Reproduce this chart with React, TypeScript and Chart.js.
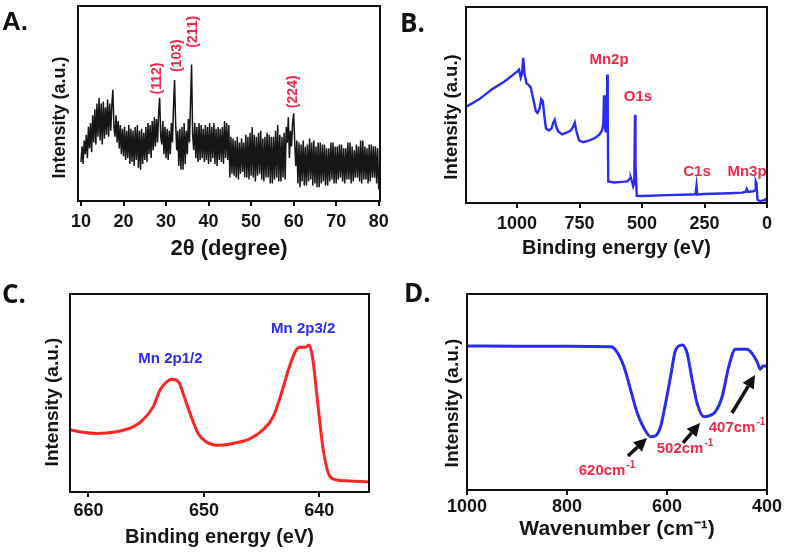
import React, { useEffect, useRef } from 'react';
import { Chart, registerables } from 'chart.js';
Chart.register(...registerables);

// ---------- Panel A: XRD ----------
const xrdAngle = [
  10,10.25,10.5,10.75,11,11.25,11.5,11.75,12,12.25,12.5,12.75,13,13.25,13.5,13.75,14,14.25,14.5,14.75,
  15,15.25,15.5,15.75,16,16.25,16.5,16.75,17,17.25,17.5,17.75,18,18.25,18.5,18.75,19,19.25,19.5,19.75,
  20,20.25,20.5,20.75,21,21.25,21.5,21.75,22,22.25,22.5,22.75,23,23.25,23.5,23.75,24,24.25,24.5,24.75,
  25,25.25,25.5,25.75,26,26.25,26.5,26.75,27,27.25,27.5,27.75,28,28.25,28.5,28.75,29,29.25,29.5,29.75,
  30,30.25,30.5,30.75,31,31.25,31.5,31.75,32,32.25,32.5,32.75,33,33.25,33.5,33.75,34,34.25,34.5,34.75,
  35,35.25,35.5,35.75,36,36.25,36.5,36.75,37,37.25,37.5,37.75,38,38.25,38.5,38.75,39,39.25,39.5,39.75,
  40,40.25,40.5,40.75,41,41.25,41.5,41.75,42,42.25,42.5,42.75,43,43.25,43.5,43.75,44,44.25,44.5,44.75,
  45,45.25,45.5,45.75,46,46.25,46.5,46.75,47,47.25,47.5,47.75,48,48.25,48.5,48.75,49,49.25,49.5,49.75,
  50,50.25,50.5,50.75,51,51.25,51.5,51.75,52,52.25,52.5,52.75,53,53.25,53.5,53.75,54,54.25,54.5,54.75,
  55,55.25,55.5,55.75,56,56.25,56.5,56.75,57,57.25,57.5,57.75,58,58.25,58.5,58.75,59,59.25,59.5,59.75,
  60,60.25,60.5,60.75,61,61.25,61.5,61.75,62,62.25,62.5,62.75,63,63.25,63.5,63.75,64,64.25,64.5,64.75,
  65,65.25,65.5,65.75,66,66.25,66.5,66.75,67,67.25,67.5,67.75,68,68.25,68.5,68.75,69,69.25,69.5,69.75,
  70,70.25,70.5,70.75,71,71.25,71.5,71.75,72,72.25,72.5,72.75,73,73.25,73.5,73.75,74,74.25,74.5,74.75,
  75,75.25,75.5,75.75,76,76.25,76.5,76.75,77,77.25,77.5,77.75,78,78.25,78.5,78.75,79,79.25,79.5,79.75,
  80
];
const xrdIntensity = [
  20,28,19,31, 24,34,22,38, 27,40,25,44, 30,47,29,50, 33,53,31,50,
  29,51,32,48, 34,52,33,50, 36,49,57,38, 33,44,30,41, 27,39,24,37,
  23,38,21,36, 22,39,19,37, 20,36,18,38, 21,39,17,36, 16,37,19,35,
  21,38,20,40, 24,39,22,41, 26,43,28,42, 30,45,53,33, 29,41,24,38,
  22,37,21,36, 24,40,30,48, 62,40,26,36, 18,37,16,38, 16,40,19,36,
  24,42,30,50, 70,34,26,40, 22,38,20,40, 21,39,22,37, 20,39,21,38,
  19,40,20,38, 22,40,19,37, 18,38,21,37, 20,38,19,41, 22,40,21,39,
  12,33,14,32, 13,31,12,33, 11,30,14,32, 15,30,12,34, 12,33,11,35,
  13,38,12,34, 10,33,13,35, 14,36,11,32, 10,33,12,35, 12,34,9,33,
  9,33,11,36, 12,39,10,34, 10,33,12,35, 11,38,30,43, 22,36,28,40,
  45,30,18,31, 9,30,7,29, 10,31,8,28, 8,29,10,32, 11,30,8,31,
  9,28,7,30, 7,30,9,29, 10,29,8,27, 8,27,10,30, 11,30,9,28,
  9,28,11,29, 12,29,10,27, 9,27,11,30, 11,30,9,28, 10,26,12,29,
  12,28,10,31, 9,31,11,28, 11,27,9,29, 10,29,12,28, 12,28,9,27,
  6
];
const xrdTicks = [10, 20, 30, 40, 50, 60, 70, 80];
const xrdPeakNames = ['(112)', '(103)', '(211)', '(224)'];
const xrdPeakX = [27.9, 32.5, 36.4, 59.9];
const xrdPeakY = [62.8, 74.5, 86.8, 56];

// ---------- Panel B: XPS survey ----------
const xpsEnergy = [1204,1150,1100,1050,1020,1000,992,985,980,975,970,962,952,945,935,925,918,910,903,897,890,884,872,862,855,849,843,835,820,800,785,775,769,763,752,735,710,690,670,660,655,652,649,645,641,639,637,635,612,580,559,548,545,540,535,531,528,526,521,500,400,300,286,282,279,250,150,100,86,81,76,55,48,45,42,38,30,20,10,5,0];
const xpsIntensity = [49,53,58,62,65,67,68,64,66,74,66,61,60,59,53,47,46,48,53,52,44,38,37,38,41,42.5,39,36.5,35,36,37,39,41,37,32,31,32,33,35,37,40,55,40,36,45,65.5,45,11,10.5,10.8,11,12.5,12.9,11,8.5,10,45,20,3.7,3.6,4,4.3,4.5,8.8,4.4,4.6,5,5.3,5.6,7.2,5.6,6,6.5,11,10,1.7,1,1.2,1.5,2,0.6];
const xpsTicks = [1000, 750, 500, 250, 0];
const xpsPeakNames = ['Mn2p', 'O1s', 'C1s', 'Mn3p'];
const xpsPeakX = [632, 516, 280, 80];
const xpsPeakY = [73, 54.4, 16, 16];

// ---------- Panel C: Mn 2p ----------
const mnEnergy = [661.6,661.5,659.3,657.6,656.1,655.3,654.4,653.8,653.2,652.8,652.2,651.8,651.2,650.5,649.8,648.6,647.5,646.0,644.9,644.0,643.2,642.6,642.0,641.6,641.2,640.9,640.6,640.2,639.7,639.3,638.9,637.4,635.7];
const mnIntensity = [31.5,31.3,29.6,30.4,33,36.3,43,51.5,55.7,57,55.7,49.8,39.7,29.6,25.3,23.6,24.5,27,31.3,38,51.5,63.3,71.8,73.1,73.1,74.3,68.4,48.1,22.8,11,6.8,5.6,5.1];
const mnTicks = [660, 650, 640];
const mnPeakNames = ['Mn 2p1/2', 'Mn 2p3/2'];
const mnPeakX = [652.9, 641.4];
const mnPeakY = [67.2, 82.5];

// ---------- Panel D: FTIR ----------
const irWavenumber = [1000,900,800,712.6,702.7,686,672.7,659.4,646,632.8,622.8,612.9,602.9,592.9,582.9,569.6,559.6,549.6,539.7,526.4,516.4,503.1,489.8,476.5,463.2,453.2,439.9,430,420,413.3,408,400];
const irIntensity = [73.5,73.3,73.4,73.1,71.4,62.9,51,39.1,31.5,27.2,27.7,32.3,44.2,57.8,71.4,74,69.7,56.1,44.2,37.4,37.8,40,47.6,62.9,71.8,71.8,71.8,69.7,65.5,61.6,63.3,63.3];
const irTicks = [1000, 800, 600, 400];
const irBandNames = ['620cm', '502cm', '407cm'];
const irBandX = [720, 564, 460];
const irBandY = [9.7, 21, 31.6];
const irArrowFromX = [678, 568, 470];
const irArrowFromY = [17.3, 24, 39.3];
const irArrowToX = [640, 534, 424];
const irArrowToY = [26.5, 34.2, 58.7];

const RED = '#ee2a48';
const BLUE = '#2a2cf5';
const AXIS_FONT = 'Liberation Sans';
const LABEL_FONT = 'Liberation Sans';

type Label = { text: string; sup?: string; x: number; y: number; color: string; size: number; rotate?: boolean };
type Arrow = { x1: number; y1: number; x2: number; y2: number };

type Panel = {
  left: number; top: number; width: number; height: number;
  area: { left: number; top: number; right: number; bottom: number };
  xMin: number; xMax: number; reverse: boolean; ticks: number[];
  tickPad: number; xTitle: string; titleSize: number; titlePad: number;
  xs: number[]; ys: number[]; color: string; lineWidth: number; tension: number;
  yTitleDx: number; yTitleDy: number; yTitleSize: number;
  labels: Label[]; arrows: Arrow[];
};

function makeDecor(p: Panel) {
  return {
    id: 'decor',
    afterDatasetsDraw(chart: any) {
      const { ctx, chartArea: a, scales } = chart;
      const sx = scales.x, sy = scales.y;
      ctx.save();
      ctx.strokeStyle = '#111';
      ctx.lineWidth = 2;
      ctx.strokeRect(a.left, a.top, a.right - a.left, a.bottom - a.top);
      // y title
      ctx.save();
      ctx.translate(a.left + p.yTitleDx, (a.top + a.bottom) / 2 + p.yTitleDy);
      ctx.rotate(-Math.PI / 2);
      ctx.fillStyle = '#151515';
      ctx.font = `bold ${p.yTitleSize}px "${AXIS_FONT}"`;
      ctx.textAlign = 'center';
      ctx.textBaseline = 'middle';
      ctx.fillText('Intensity (a.u.)', 0, 0);
      ctx.restore();
      // arrows
      for (const ar of p.arrows) {
        const x1 = sx.getPixelForValue(ar.x1), y1 = sy.getPixelForValue(ar.y1);
        const x2 = sx.getPixelForValue(ar.x2), y2 = sy.getPixelForValue(ar.y2);
        const ang = Math.atan2(y2 - y1, x2 - x1);
        const hl = 13, hw = 6.5;
        const bx = x2 - hl * Math.cos(ang), by = y2 - hl * Math.sin(ang);
        ctx.strokeStyle = '#111';
        ctx.fillStyle = '#111';
        ctx.lineWidth = 3.5;
        ctx.beginPath();
        ctx.moveTo(x1, y1);
        ctx.lineTo(bx, by);
        ctx.stroke();
        ctx.beginPath();
        ctx.moveTo(x2, y2);
        ctx.lineTo(bx + hw * Math.sin(ang), by - hw * Math.cos(ang));
        ctx.lineTo(bx - hw * Math.sin(ang), by + hw * Math.cos(ang));
        ctx.closePath();
        ctx.fill();
      }
      // labels
      for (const l of p.labels) {
        const px = sx.getPixelForValue(l.x), py = sy.getPixelForValue(l.y);
        ctx.save();
        ctx.translate(px, py);
        if (l.rotate) ctx.rotate(-Math.PI / 2);
        ctx.fillStyle = l.color;
        ctx.font = `bold ${l.size}px "${LABEL_FONT}"`;
        ctx.textBaseline = 'middle';
        const w = ctx.measureText(l.text).width;
        let sw = 0;
        const supSize = Math.round(l.size * 0.68);
        if (l.sup) {
          ctx.font = `bold ${supSize}px "${LABEL_FONT}"`;
          sw = ctx.measureText(l.sup).width + 1;
        }
        const start = -(w + sw) / 2;
        ctx.font = `bold ${l.size}px "${LABEL_FONT}"`;
        ctx.textAlign = 'left';
        ctx.fillText(l.text, start, 0);
        if (l.sup) {
          ctx.font = `bold ${supSize}px "${LABEL_FONT}"`;
          ctx.fillText(l.sup, start + w + 1, -l.size * 0.38);
        }
        ctx.restore();
      }
      ctx.restore();
    },
  };
}

const panels: Panel[] = [
  {
    left: 0, top: 0, width: 394, height: 270,
    area: { left: 78, top: 6, right: 380, bottom: 201 },
    xMin: 9.3, xMax: 80.3, reverse: false, ticks: xrdTicks, tickPad: 5,
    xTitle: '2θ (degree)', titleSize: 22, titlePad: 8,
    xs: xrdAngle, ys: xrdIntensity, color: '#161616', lineWidth: 1.5, tension: 0,
    yTitleDx: -18, yTitleDy: 14, yTitleSize: 18,
    labels: xrdPeakNames.map((t, i) => ({ text: t, x: xrdPeakX[i], y: xrdPeakY[i], color: RED, size: 14, rotate: true })),
    arrows: [],
  },
  {
    left: 394, top: 0, width: 393, height: 270,
    area: { left: 72, top: 7, right: 373, bottom: 203 },
    xMin: 0, xMax: 1204, reverse: true, ticks: xpsTicks, tickPad: 5,
    xTitle: 'Binding energy (eV)', titleSize: 20, titlePad: 10,
    xs: xpsEnergy, ys: xpsIntensity, color: BLUE, lineWidth: 2.4, tension: 0,
    yTitleDx: -14, yTitleDy: 12, yTitleSize: 18.5,
    labels: xpsPeakNames.map((t, i) => ({ text: t, x: xpsPeakX[i], y: xpsPeakY[i], color: RED, size: 15 })),
    arrows: [],
  },
  {
    left: 0, top: 270, width: 394, height: 287,
    area: { left: 70, top: 24, right: 369, bottom: 222 },
    xMin: 635.7, xMax: 661.6, reverse: true, ticks: mnTicks, tickPad: 3,
    xTitle: 'Binding energy (eV)', titleSize: 20, titlePad: 8,
    xs: mnEnergy, ys: mnIntensity, color: '#ff2424', lineWidth: 3, tension: 0.3,
    yTitleDx: -17, yTitleDy: 9, yTitleSize: 19,
    labels: mnPeakNames.map((t, i) => ({ text: t, x: mnPeakX[i], y: mnPeakY[i], color: BLUE, size: 15 })),
    arrows: [],
  },
  {
    left: 394, top: 270, width: 393, height: 287,
    area: { left: 73, top: 24, right: 373, bottom: 220 },
    xMin: 400, xMax: 1000, reverse: true, ticks: irTicks, tickPad: 1,
    xTitle: 'Wavenumber (cm⁻¹)', titleSize: 21, titlePad: 15,
    xs: irWavenumber, ys: irIntensity, color: BLUE, lineWidth: 3, tension: 0.3,
    yTitleDx: -14.5, yTitleDy: 11, yTitleSize: 19,
    labels: irBandNames.map((t, i) => ({ text: t, sup: '-1', x: irBandX[i], y: irBandY[i], color: RED, size: 15 })),
    arrows: irArrowFromX.map((x, i) => ({ x1: x, y1: irArrowFromY[i], x2: irArrowToX[i], y2: irArrowToY[i] })),
  },
];

function PanelChart({ p }: { p: Panel }) {
  const ref = useRef<HTMLCanvasElement | null>(null);
  useEffect(() => {
    if (!ref.current) return;
    const axisH = p.height - p.area.bottom;
    const chart = new Chart(ref.current, {
      type: 'line',
      data: {
        datasets: [{
          data: p.xs.map((x, i) => ({ x, y: p.ys[i] })),
          borderColor: p.color,
          borderWidth: p.lineWidth,
          pointRadius: 0,
          tension: p.tension,
          cubicInterpolationMode: p.tension > 0 ? 'monotone' : 'default',
          fill: false,
        }],
      },
      options: {
        responsive: false,
        animation: false,
        events: [],
        layout: { padding: { left: p.area.left, top: p.area.top, right: p.width - p.area.right, bottom: 0 } },
        plugins: { legend: { display: false }, tooltip: { enabled: false } },
        scales: {
          x: {
            type: 'linear',
            min: p.xMin,
            max: p.xMax,
            reverse: p.reverse,
            afterBuildTicks: (ax: any) => { ax.ticks = p.ticks.map((v) => ({ value: v })); },
            afterFit: (ax: any) => { ax.height = axisH; },
            grid: { drawOnChartArea: false, drawTicks: true, tickLength: 5, color: '#111', lineWidth: 2 },
            border: { display: false },
            ticks: {
              padding: p.tickPad, color: '#151515', autoSkip: false, maxRotation: 0,
              font: { family: AXIS_FONT, size: 18, weight: 'bold' },
              callback: (v: any) => String(v),
            },
            title: {
              display: true, text: p.xTitle, color: '#151515',
              font: { family: AXIS_FONT, size: p.titleSize, weight: 'bold' },
              padding: { top: 0, bottom: p.titlePad },
            },
          },
          y: { display: false, min: 0, max: 100 },
        },
      },
      plugins: [makeDecor(p)],
    } as any);
    return () => chart.destroy();
  }, [p]);
  return (
    <canvas
      ref={ref}
      width={p.width}
      height={p.height}
      style={{ position: 'absolute', left: p.left, top: p.top, width: p.width, height: p.height }}
    />
  );
}

const letterStyle = (left: number, top: number, family: string): React.CSSProperties => ({
  position: 'absolute', left, top, font: `bold 26px "${family}"`, color: '#111', lineHeight: '26px',
});

export default function App() {
  return (
    <div style={{ position: 'fixed', left: 0, top: 0, width: 787, height: 557, background: '#fff', overflow: 'hidden' }}>
      {panels.map((p, i) => <PanelChart key={i} p={p} />)}
      <div style={letterStyle(2, 8, 'Liberation Sans')}>A.</div>
      <div style={letterStyle(400, 9, 'Open Sans')}>B.</div>
      <div style={letterStyle(2, 280, 'Open Sans')}>C.</div>
      <div style={letterStyle(404, 279, 'Open Sans')}>D.</div>
    </div>
  );
}
